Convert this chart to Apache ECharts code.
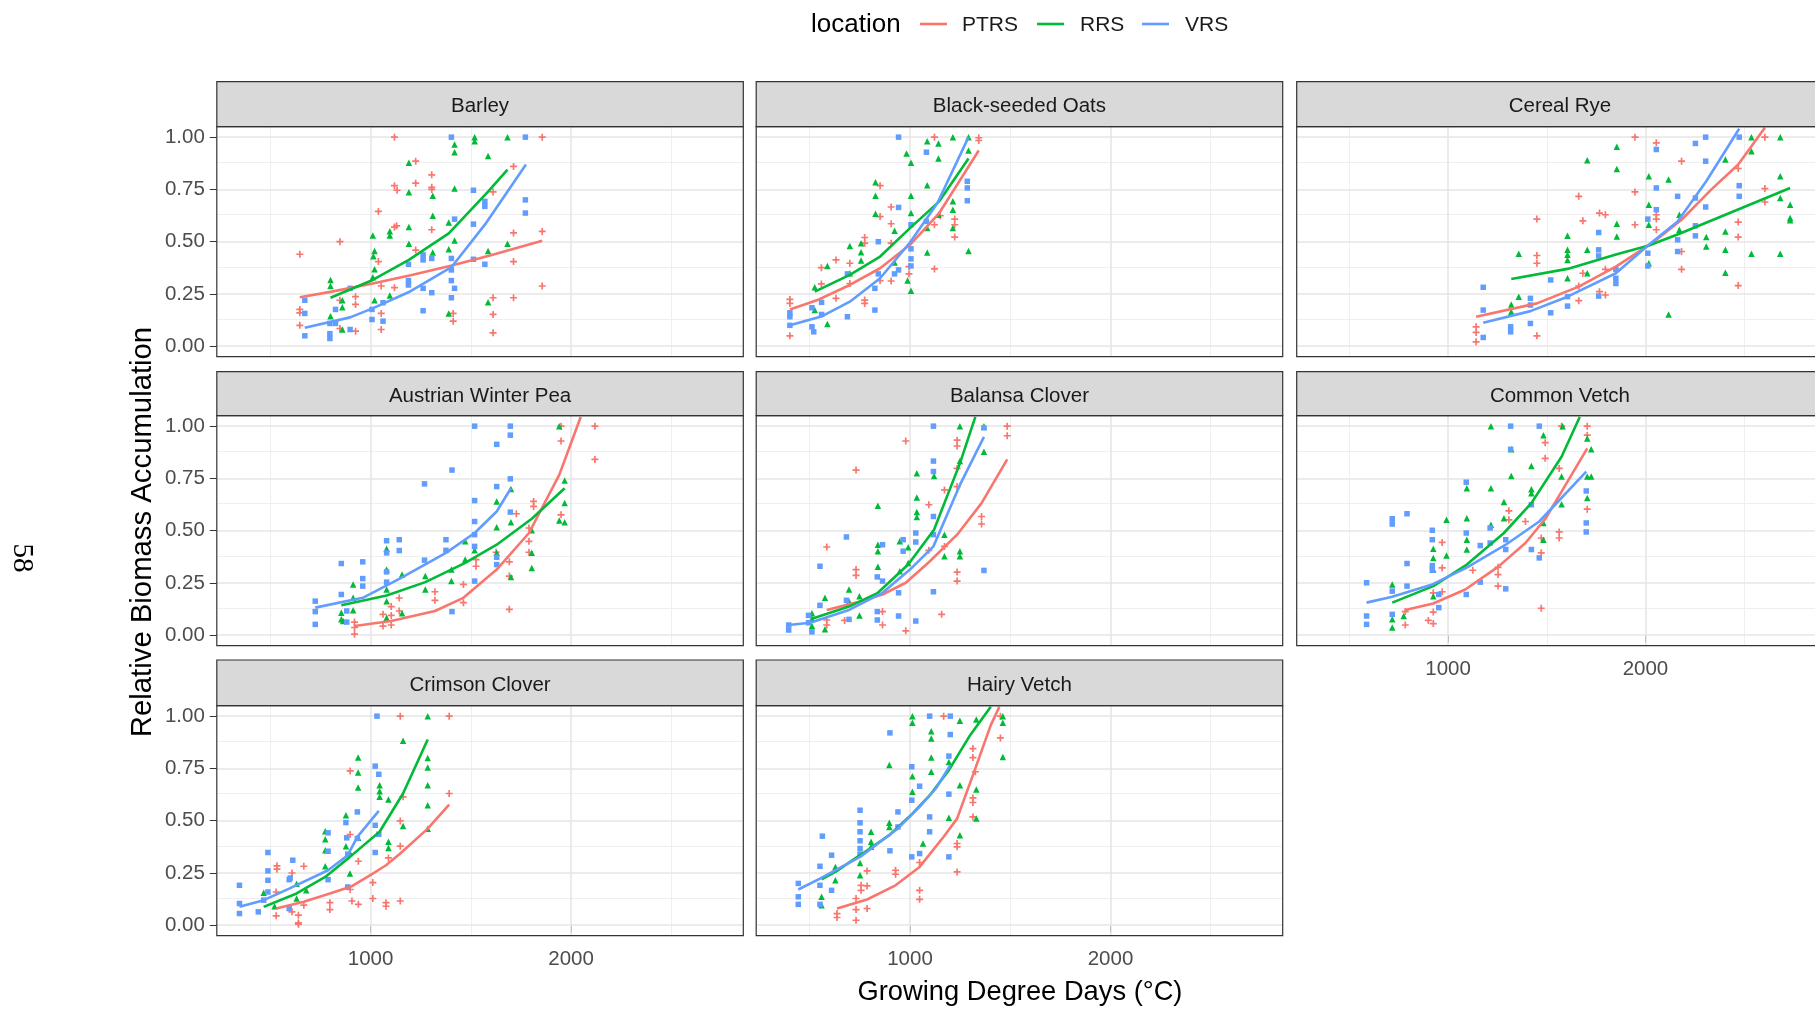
<!DOCTYPE html>
<html>
<head>
<meta charset="utf-8">
<title>Relative biomass accumulation by growing degree days</title>
<script src="https://cdn.jsdelivr.net/npm/echarts@6/dist/echarts.min.js"></script>
<style>
  html, body { margin: 0; padding: 0; background: #ffffff; }
  #chart { width: 1815px; height: 1009px; }
</style>
</head>
<body>
<div id="chart"></div>
<script>
// ---------------- data ----------------
const locations = ['PTRS', 'RRS', 'VRS'];
const cropNames = ['Barley', 'Black-seeded Oats', 'Cereal Rye',
  'Austrian Winter Pea', 'Balansa Clover', 'Common Vetch',
  'Crimson Clover', 'Hairy Vetch'];
const xTickValues = [1000, 2000];
const yTickValues = [0, 0.25, 0.5, 0.75, 1];
const xGridMajor = [1000, 2000];
const xGridMinor = [500, 1500, 2500];
const yGridMajor = [0, 0.25, 0.5, 0.75, 1];
const yGridMinor = [0.125, 0.375, 0.625, 0.875];

// Barley: observations [GDD, relative biomass]
const barleyPTRS = [[647,0.44],[647,0.176],[647,0.16],[647,0.10],[847,0.50],[847,0.22],[847,0.085],[925,0.237],[925,0.20],[925,0.072],[1039,0.645],[1039,0.405],[1053,0.288],[1053,0.157],[1053,0.08],[1119,1.0],[1119,0.768],[1132,0.746],[1119,0.57],[1130,0.576],[1119,0.28],[1225,0.885],[1225,0.78],[1225,0.46],[1305,0.82],[1305,0.76],[1305,0.75],[1305,0.557],[1412,0.157],[1412,0.12],[1611,0.738],[1611,0.232],[1611,0.152],[1611,0.064],[1713,0.86],[1713,0.542],[1713,0.405],[1713,0.232],[1856,1.0],[1856,0.549],[1856,0.288]];
const barleyRRS = [[800,0.317],[800,0.288],[800,0.144],[859,0.22],[859,0.186],[859,0.08],[1011,0.53],[1020,0.456],[1014,0.43],[1020,0.368],[1011,0.33],[1020,0.22],[1096,0.55],[1096,0.53],[1096,0.243],[1191,0.877],[1191,0.736],[1191,0.57],[1191,0.49],[1310,0.72],[1310,0.624],[1310,0.448],[1390,0.592],[1390,0.464],[1390,0.157],[1419,0.965],[1419,0.928],[1419,0.754],[1419,0.506],[1519,1.0],[1519,0.98],[1586,0.91],[1586,0.456],[1586,0.21],[1683,1.0],[1683,0.49]];
const barleyVRS = [[672,0.22],[672,0.157],[672,0.05],[797,0.109],[797,0.06],[797,0.037],[825,0.176],[825,0.109],[898,0.277],[898,0.08],[1007,0.176],[1007,0.128],[1062,0.208],[1062,0.12],[1189,0.392],[1189,0.314],[1189,0.293],[1262,0.437],[1262,0.413],[1262,0.277],[1262,0.17],[1305,0.42],[1305,0.256],[1403,1.0],[1403,0.42],[1403,0.365],[1403,0.314],[1419,0.608],[1419,0.277],[1403,0.232],[1513,0.746],[1513,0.584],[1513,0.416],[1570,0.693],[1570,0.669],[1570,0.392],[1772,1.0],[1772,0.70],[1772,0.637]];
// Barley: fitted curves
const barleyPTRSFit = [[647,0.234],[800,0.26],[1000,0.298],[1200,0.34],[1400,0.385],[1600,0.435],[1856,0.504]];
const barleyRRSFit = [[800,0.232],[1011,0.317],[1191,0.413],[1390,0.54],[1586,0.74],[1683,0.845]];
const barleyVRSFit = [[672,0.088],[898,0.138],[1007,0.18],[1189,0.258],[1403,0.378],[1576,0.589],[1775,0.869]];

// Black-seeded Oats
const oatsPTRS = [[401,0.224],[401,0.205],[401,0.05],[558,0.376],[558,0.298],[631,0.413],[631,0.229],[700,0.397],[700,0.30],[774,0.52],[774,0.493],[774,0.221],[774,0.205],[851,0.768],[851,0.62],[851,0.314],[906,0.666],[906,0.586],[906,0.493],[906,0.312],[995,0.381],[995,0.346],[1122,1.0],[1122,0.581],[1122,0.37],[1151,0.624],[1223,0.608],[1223,0.581],[1223,0.522],[1343,0.997],[1343,0.984]];
const oatsRRS = [[525,0.282],[525,0.173],[588,0.384],[588,0.106],[700,0.48],[700,0.349],[756,0.493],[756,0.45],[756,0.41],[828,0.784],[828,0.72],[828,0.634],[923,0.552],[923,0.40],[983,0.922],[988,0.314],[1005,0.877],[1005,0.72],[1005,0.637],[1005,0.266],[1086,0.98],[1086,0.77],[1086,0.565],[1086,0.448],[1142,0.97],[1142,0.898],[1142,0.629],[1214,1.0],[1214,0.693],[1214,0.653],[1214,0.565],[1292,1.0],[1292,0.936],[1292,0.456]];
const oatsVRS = [[401,0.16],[401,0.141],[401,0.10],[511,0.184],[511,0.093],[520,0.069],[559,0.21],[559,0.152],[688,0.346],[688,0.141],[825,0.173],[825,0.277],[842,0.50],[842,0.346],[923,0.346],[943,1.0],[943,0.664],[943,0.365],[1005,0.581],[1005,0.466],[1005,0.418],[1005,0.384],[1082,0.928],[1082,0.597],[1286,0.789],[1286,0.757],[1286,0.696]];
const oatsPTRSFit = [[401,0.176],[546,0.224],[700,0.293],[851,0.373],[1000,0.485],[1146,0.637],[1343,0.936]];
const oatsRRSFit = [[525,0.261],[700,0.341],[851,0.429],[1000,0.565],[1146,0.693],[1292,0.898]];
const oatsVRSFit = [[401,0.10],[562,0.144],[700,0.213],[851,0.325],[1000,0.496],[1137,0.685],[1292,1.0]];

// Cereal Rye
const ryePTRS = [[1142,0.093],[1142,0.066],[1142,0.021],[1450,0.608],[1450,0.434],[1450,0.397],[1450,0.05],[1662,0.717],[1662,0.288],[1662,0.218],[1683,0.60],[1683,0.349],[1767,0.637],[1797,0.629],[1767,0.261],[1797,0.245],[1797,0.368],[1947,1.0],[1947,0.738],[1947,0.581],[2055,0.973],[2055,0.629],[2055,0.608],[2055,0.557],[2183,0.885],[2183,0.453],[2183,0.368],[2470,0.85],[2470,0.594],[2470,0.522],[2470,0.29],[2605,1.0],[2605,0.754],[2605,0.69]];
const ryeRRS = [[1320,0.165],[1320,0.20],[1358,0.442],[1358,0.237],[1605,0.528],[1605,0.461],[1605,0.437],[1605,0.413],[1605,0.325],[1705,0.89],[1705,0.461],[1705,0.349],[1855,0.954],[1855,0.848],[1855,0.586],[1855,0.525],[2017,0.813],[2017,0.677],[2017,0.581],[2017,0.397],[2117,0.797],[2117,0.152],[2172,0.629],[2172,0.557],[2308,0.522],[2308,0.477],[2405,0.893],[2405,0.549],[2405,0.461],[2405,0.352],[2537,1.0],[2537,0.933],[2537,0.442],[2683,1.0],[2683,0.813],[2683,0.709],[2683,0.442],[2733,0.677],[2733,0.613],[2733,0.602]];
const ryeVRS = [[1178,0.282],[1178,0.173],[1178,0.042],[1317,0.093],[1317,0.069],[1417,0.229],[1417,0.197],[1417,0.109],[1520,0.317],[1520,0.16],[1605,0.237],[1605,0.192],[1763,0.544],[1763,0.461],[1763,0.432],[1763,0.24],[1850,0.368],[1850,0.325],[1850,0.30],[2012,0.608],[2012,0.445],[2012,0.384],[2055,0.941],[2055,0.757],[2055,0.653],[2163,0.717],[2163,0.509],[2163,0.453],[2253,0.97],[2253,0.709],[2253,0.576],[2305,1.0],[2305,0.885],[2305,0.666],[2253,0.528],[2475,1.0],[2475,0.768],[2475,0.717]];
const ryePTRSFit = [[1142,0.141],[1450,0.205],[1662,0.285],[1850,0.381],[2033,0.493],[2183,0.605],[2333,0.749],[2470,0.869],[2605,1.045]];
const ryeRRSFit = [[1320,0.322],[1605,0.37],[1855,0.44],[2017,0.482],[2172,0.538],[2405,0.629],[2733,0.757]];
const ryeVRSFit = [[1178,0.112],[1417,0.168],[1605,0.237],[1850,0.349],[2017,0.485],[2163,0.597],[2308,0.789],[2475,1.04]];

// Austrian Winter Pea
const peaPTRS = [[920,0.063],[920,0.037],[920,0.005],[1062,0.10],[1062,0.044],[1103,0.137],[1103,0.095],[1103,0.049],[1143,0.178],[1143,0.116],[1321,0.208],[1321,0.167],[1463,0.243],[1463,0.156],[1526,0.362],[1526,0.33],[1626,0.397],[1692,0.351],[1692,0.283],[1692,0.124],[1727,0.581],[1790,0.513],[1790,0.449],[1790,0.397],[1813,0.64],[1813,0.616],[1950,1.0],[1950,0.929],[1950,0.576],[2119,1.0],[2119,0.841]];
const peaRRS = [[854,0.108],[854,0.076],[863,0.068],[913,0.243],[913,0.179],[913,0.119],[1080,0.414],[1080,0.314],[1080,0.219],[1080,0.163],[1080,0.084],[1157,0.29],[1157,0.105],[1273,0.283],[1273,0.219],[1403,0.314],[1403,0.259],[1472,0.449],[1472,0.362],[1519,0.406],[1629,0.64],[1629,0.517],[1629,0.394],[1700,0.70],[1700,0.541],[1700,0.278],[1804,0.502],[1804,0.394],[1804,0.322],[1941,1.0],[1941,0.549],[1968,0.74],[1968,0.632],[1968,0.541]];
const peaVRS = [[724,0.163],[724,0.113],[724,0.052],[854,0.343],[854,0.195],[881,0.116],[881,0.063],[961,0.351],[961,0.271],[961,0.235],[1080,0.452],[1080,0.394],[1080,0.303],[1080,0.254],[1143,0.457],[1143,0.405],[1269,0.724],[1269,0.359],[1376,0.457],[1376,0.406],[1406,0.79],[1406,0.113],[1519,1.0],[1519,0.644],[1519,0.544],[1519,0.481],[1519,0.425],[1519,0.259],[1629,0.913],[1629,0.711],[1629,0.373],[1629,0.338],[1697,1.0],[1697,0.957],[1697,0.748],[1697,0.589]];
const peaPTRSFit = [[920,0.044],[1103,0.068],[1321,0.116],[1463,0.179],[1629,0.314],[1790,0.489],[1941,0.767],[2048,1.044]];
const peaRRSFit = [[854,0.143],[1080,0.19],[1273,0.254],[1472,0.346],[1629,0.433],[1804,0.557],[1968,0.703]];
const peaVRSFit = [[724,0.132],[961,0.179],[1143,0.27],[1376,0.394],[1519,0.489],[1629,0.592],[1700,0.703]];

// Balansa Clover
const balansaPTRS = [[585,0.422],[585,0.073],[585,0.049],[674,0.071],[731,0.79],[731,0.314],[731,0.286],[863,0.113],[863,0.049],[979,0.929],[979,0.021],[1094,0.624],[1094,0.406],[1158,0.10],[1172,0.695],[1172,0.425],[1235,0.933],[1235,0.905],[1235,0.798],[1235,0.711],[1235,0.302],[1235,0.259],[1357,0.568],[1357,0.532],[1485,1.0],[1485,0.954]];
const balansaRRS = [[511,0.105],[511,0.079],[511,0.044],[576,0.179],[576,0.029],[696,0.219],[696,0.163],[748,0.187],[748,0.095],[840,0.619],[840,0.433],[840,0.402],[840,0.327],[949,0.449],[949,0.306],[991,0.421],[991,0.346],[1034,0.775],[1034,0.659],[1034,0.589],[1034,0.565],[1120,0.762],[1172,0.481],[1172,0.378],[1249,1.0],[1249,0.833],[1249,0.402],[1249,0.378],[1369,1.0],[1369,0.878]];
const balansaVRS = [[395,0.049],[395,0.025],[494,0.095],[494,0.06],[511,0.016],[551,0.33],[551,0.143],[683,0.47],[683,0.167],[696,0.076],[837,0.279],[837,0.113],[837,0.073],[863,0.433],[863,0.259],[943,0.203],[943,0.092],[966,0.457],[966,0.402],[1029,0.489],[1029,0.446],[1029,0.068],[1117,1.0],[1117,0.833],[1117,0.783],[1117,0.568],[1117,0.481],[1117,0.208],[1369,0.992],[1369,0.31]];
const balansaPTRSFit = [[585,0.121],[731,0.156],[863,0.195],[979,0.251],[1094,0.349],[1235,0.481],[1357,0.632],[1485,0.841]];
const balansaRRSFit = [[511,0.079],[696,0.137],[840,0.203],[991,0.338],[1120,0.505],[1249,0.822],[1326,1.044]];
const balansaVRSFit = [[395,0.049],[502,0.06],[696,0.121],[863,0.203],[1000,0.314],[1117,0.425],[1249,0.719],[1369,0.949]];

// Common Vetch
const commonPTRS = [[783,0.113],[783,0.049],[900,0.071],[925,0.111],[925,0.056],[925,0.203],[970,0.444],[970,0.322],[970,0.208],[1125,0.311],[1253,0.325],[1253,0.29],[1253,0.235],[1308,0.595],[1308,0.552],[1392,0.544],[1472,0.394],[1472,0.129],[1472,0.465],[1492,0.921],[1492,0.846],[1563,0.798],[1563,0.494],[1563,0.465],[1575,1.0],[1705,1.0],[1705,0.957],[1705,0.603]];
const commonRRS = [[717,0.243],[717,0.076],[717,0.037],[775,0.092],[925,0.414],[925,0.37],[925,0.314],[925,0.187],[992,0.552],[992,0.381],[1095,0.703],[1095,0.56],[1095,0.457],[1095,0.41],[1217,1.0],[1217,0.703],[1217,0.529],[1283,0.637],[1283,0.56],[1320,0.889],[1320,0.762],[1422,0.81],[1422,0.698],[1422,0.679],[1483,0.957],[1483,0.537],[1483,0.457],[1575,0.759],[1575,0.627],[1580,1.0],[1705,0.941],[1705,0.759],[1705,0.656],[1725,0.889],[1725,0.759]];
const commonVRS = [[587,0.251],[587,0.092],[587,0.052],[717,0.557],[717,0.532],[717,0.211],[717,0.10],[792,0.581],[792,0.343],[792,0.235],[920,0.502],[920,0.457],[920,0.333],[920,0.311],[953,0.195],[953,0.132],[1092,0.732],[1092,0.489],[1092,0.195],[1163,0.429],[1163,0.254],[1213,0.513],[1213,0.441],[1292,0.457],[1292,0.41],[1292,0.222],[1317,1.0],[1317,0.889],[1422,0.41],[1462,1.0],[1462,0.37],[1422,0.624],[1700,0.69],[1700,0.537],[1700,0.494]];
const commonPTRSFit = [[783,0.121],[925,0.152],[1087,0.219],[1253,0.327],[1392,0.441],[1492,0.556],[1575,0.687],[1705,0.894]];
const commonRRSFit = [[717,0.156],[925,0.235],[1095,0.338],[1283,0.489],[1422,0.632],[1575,0.854],[1667,1.044]];
const commonVRSFit = [[587,0.156],[717,0.184],[920,0.243],[1092,0.322],[1292,0.433],[1462,0.544],[1700,0.783]];

// Crimson Clover
const crimsonPTRS = [[529,0.159],[529,0.045],[533,0.284],[533,0.268],[608,0.25],[608,0.064],[640,0.048],[640,0.011],[640,0.005],[667,0.282],[667,0.096],[797,0.108],[797,0.075],[898,0.738],[898,0.434],[898,0.171],[907,0.116],[939,0.10],[939,0.306],[1011,0.204],[1011,0.128],[1077,0.108],[1077,0.091],[1089,0.322],[1148,1.0],[1148,0.499],[1148,0.378],[1148,0.116],[1162,0.614],[1392,1.0],[1392,0.63]];
const crimsonRRS = [[467,0.155],[521,0.091],[631,0.199],[631,0.128],[679,0.167],[774,0.45],[774,0.411],[774,0.359],[774,0.282],[877,0.526],[877,0.378],[897,0.346],[897,0.247],[938,0.802],[938,0.73],[938,0.659],[938,0.418],[1045,0.67],[1045,0.641],[1045,0.614],[1089,0.601],[1089,0.399],[1089,0.37],[1162,0.882],[1162,0.475],[1285,1.0],[1285,0.80],[1285,0.754],[1285,0.67],[1285,0.574],[1285,0.462]];
const crimsonVRS = [[346,0.191],[346,0.104],[346,0.056],[440,0.064],[467,0.12],[488,0.348],[488,0.26],[488,0.215],[488,0.159],[594,0.218],[594,0.08],[612,0.311],[599,0.226],[788,0.442],[788,0.354],[788,0.218],[877,0.491],[881,0.418],[886,0.34],[886,0.183],[934,0.542],[934,0.415],[1023,0.761],[1041,0.722],[1023,0.478],[1023,0.348],[1041,0.435],[1032,1.0]];
const crimsonPTRSFit = [[529,0.08],[667,0.112],[797,0.152],[907,0.187],[1011,0.247],[1077,0.287],[1148,0.343],[1285,0.462],[1392,0.577]];
const crimsonRRSFit = [[467,0.088],[631,0.152],[774,0.231],[897,0.327],[1045,0.447],[1162,0.63],[1285,0.888]];
const crimsonVRSFit = [[346,0.088],[467,0.12],[594,0.175],[788,0.263],[886,0.335],[934,0.423],[1041,0.547]];

// Hairy Vetch
const hairyPTRS = [[636,0.056],[636,0.037],[731,0.128],[731,0.075],[731,0.024],[756,0.191],[756,0.167],[786,0.26],[786,0.188],[786,0.08],[928,0.263],[928,0.244],[1048,0.30],[1048,0.167],[1048,0.124],[1168,1.0],[1235,0.391],[1235,0.375],[1235,0.255],[1314,0.845],[1314,0.802],[1314,0.609],[1314,0.587],[1314,0.518],[1326,0.734],[1451,1.0],[1451,0.896]];
const hairyRRS = [[559,0.136],[559,0.096],[628,0.279],[628,0.215],[751,0.298],[751,0.239],[806,0.447],[806,0.399],[806,0.375],[897,0.766],[897,0.49],[897,0.47],[1012,1.0],[1012,0.968],[1012,0.713],[1012,0.638],[1106,0.928],[1106,0.893],[1106,0.802],[1106,0.734],[1065,0.391],[1194,0.781],[1194,0.514],[1249,0.978],[1249,0.67],[1249,0.431],[1331,0.984],[1331,0.649],[1331,0.51],[1463,1.0],[1463,0.968],[1463,0.805]];
const hairyVRS = [[443,0.20],[443,0.136],[443,0.10],[551,0.282],[551,0.191],[551,0.10],[563,0.426],[609,0.335],[609,0.167],[751,0.55],[751,0.49],[751,0.447],[751,0.404],[751,0.367],[751,0.34],[900,0.92],[900,0.356],[940,0.542],[940,0.47],[1009,0.758],[1009,0.598],[1009,0.327],[1048,0.665],[1048,0.343],[1098,1.0],[1098,0.518],[1098,0.447],[1194,0.809],[1194,0.627],[1194,0.327],[1201,0.912],[1201,1.0]];
const hairyPTRSFit = [[636,0.08],[786,0.123],[928,0.191],[1048,0.279],[1168,0.423],[1235,0.51],[1314,0.718],[1403,0.957],[1446,1.045]];
const hairyRRSFit = [[559,0.22],[628,0.255],[751,0.335],[897,0.431],[1012,0.534],[1106,0.63],[1194,0.742],[1300,0.909],[1403,1.045]];
const hairyVRSFit = [[443,0.171],[551,0.223],[751,0.327],[940,0.463],[1048,0.566],[1129,0.654],[1201,0.766]];

const observedByCrop = [
  [barleyPTRS, barleyRRS, barleyVRS],
  [oatsPTRS, oatsRRS, oatsVRS],
  [ryePTRS, ryeRRS, ryeVRS],
  [peaPTRS, peaRRS, peaVRS],
  [balansaPTRS, balansaRRS, balansaVRS],
  [commonPTRS, commonRRS, commonVRS],
  [crimsonPTRS, crimsonRRS, crimsonVRS],
  [hairyPTRS, hairyRRS, hairyVRS]
];
const fittedByCrop = [
  [barleyPTRSFit, barleyRRSFit, barleyVRSFit],
  [oatsPTRSFit, oatsRRSFit, oatsVRSFit],
  [ryePTRSFit, ryeRRSFit, ryeVRSFit],
  [peaPTRSFit, peaRRSFit, peaVRSFit],
  [balansaPTRSFit, balansaRRSFit, balansaVRSFit],
  [commonPTRSFit, commonRRSFit, commonVRSFit],
  [crimsonPTRSFit, crimsonRRSFit, crimsonVRSFit],
  [hairyPTRSFit, hairyRRSFit, hairyVRSFit]
];

// ---------------- layout & style ----------------
const FONT = '"Liberation Sans", Arial, Helvetica, sans-serif';
const colors = ['#F8766D', '#00BA38', '#619CFF'];
const PLUS = 'path://M38,0H62V38H100V62H62V100H38V62H0V38H38Z';
const symbols = [PLUS, 'triangle', 'rect'];
const symbolSizes = [7, 6.5, 5.5];
const xRange = [233, 2859];
const yRange = [-0.05, 1.05];
const colLeft = [216.8, 756.2, 1296.7];
const panelWidth = 526.5;
const stripTop = [81.7, 371.7, 660];
const plotTop = [126.7, 415.7, 705.7];
const plotHeight = 230;
const bottomPanels = [5, 6, 7];

const grids = [], xAxes = [], yAxes = [], series = [], graphics = [];

cropNames.forEach((crop, i) => {
  const row = Math.floor(i / 3), col = i % 3;
  const left = colLeft[col], width = panelWidth, top = plotTop[row];
  const showX = bottomPanels.includes(i);
  const showY = col === 0;

  grids.push({ left: left, top: top, width: width, height: plotHeight, show: false, containLabel: false });

  xAxes.push({
    type: 'value', gridIndex: i, min: xRange[0], max: xRange[1],
    axisLine: { show: false },
    splitLine: { show: false },
    axisTick: { show: showX, customValues: xTickValues, length: 7, lineStyle: { color: '#333333', width: 1 } },
    axisLabel: { show: showX, customValues: xTickValues, fontSize: 20.5, fontFamily: FONT, color: '#4D4D4D', margin: 13,
      formatter: v => String(v) }
  });
  yAxes.push({
    type: 'value', gridIndex: i, min: yRange[0], max: yRange[1],
    axisLine: { show: false },
    splitLine: { show: false },
    axisTick: { show: showY, customValues: yTickValues, length: 7, lineStyle: { color: '#333333', width: 1 } },
    axisLabel: { show: showY, customValues: yTickValues, fontSize: 20.5, fontFamily: FONT, color: '#4D4D4D', margin: 12,
      formatter: v => v.toFixed(2) }
  });

  // panel grid lines, kept beneath the points and curves
  const gl = [];
  xGridMinor.forEach(v => gl.push({ xAxis: v, lineStyle: { color: '#EFEFEF', width: 1, type: 'solid' } }));
  yGridMinor.forEach(v => gl.push({ yAxis: v, lineStyle: { color: '#EFEFEF', width: 1, type: 'solid' } }));
  xGridMajor.forEach(v => gl.push({ xAxis: v, lineStyle: { color: '#E6E6E6', width: 1.6, type: 'solid' } }));
  yGridMajor.forEach(v => gl.push({ yAxis: v, lineStyle: { color: '#E6E6E6', width: 1.6, type: 'solid' } }));
  series.push({
    type: 'line', xAxisIndex: i, yAxisIndex: i, data: [], z: 1, silent: true,
    markLine: { z: 1, silent: true, symbol: ['none', 'none'], label: { show: false }, emphasis: { disabled: true }, data: gl }
  });

  locations.forEach((loc, k) => {
    series.push({
      name: loc, type: 'scatter', xAxisIndex: i, yAxisIndex: i, z: 2,
      symbol: symbols[k], symbolSize: symbolSizes[k],
      itemStyle: { color: colors[k], opacity: 1 },
      data: observedByCrop[i][k]
    });
  });
  locations.forEach((loc, k) => {
    series.push({
      name: loc, type: 'line', xAxisIndex: i, yAxisIndex: i, z: 3,
      showSymbol: false, smooth: false, clip: true,
      lineStyle: { color: colors[k], width: 2.6 },
      data: fittedByCrop[i][k]
    });
  });

  // panel border and strip
  graphics.push({ type: 'rect', z: 100, silent: true,
    shape: { x: left, y: top, width: width, height: plotHeight },
    style: { fill: 'none', stroke: '#333333', lineWidth: 1.2 } });
  graphics.push({ type: 'rect', z: 100, silent: true,
    shape: { x: left, y: stripTop[row], width: width, height: top - stripTop[row] },
    style: { fill: '#D9D9D9', stroke: '#333333', lineWidth: 1.2 } });
  graphics.push({ type: 'text', z: 101, silent: true,
    x: left + width / 2, y: (stripTop[row] + top) / 2 + 2.5,
    style: { text: crop, font: '20.5px ' + FONT, fill: '#1A1A1A',
      textAlign: 'center', textVerticalAlign: 'middle', align: 'center', verticalAlign: 'middle' } });
});

// axis titles
graphics.push({ type: 'text', z: 101, silent: true, x: 1020, y: 992,
  style: { text: 'Growing Degree Days (°C)', font: '27.3px ' + FONT, fill: '#000000',
    textAlign: 'center', textVerticalAlign: 'middle', align: 'center', verticalAlign: 'middle' } });
graphics.push({ type: 'text', z: 101, silent: true, x: 143, y: 532, rotation: Math.PI / 2,
  style: { text: 'Relative Biomass Accumulation', font: '29.3px ' + FONT, fill: '#000000',
    textAlign: 'center', textVerticalAlign: 'middle', align: 'center', verticalAlign: 'middle' } });

// page number
graphics.push({ type: 'text', z: 101, silent: true, x: 22, y: 558, rotation: -Math.PI / 2,
  style: { text: '58', font: '29px "Liberation Serif", "Times New Roman", serif', fill: '#000000',
    textAlign: 'center', textVerticalAlign: 'middle', align: 'center', verticalAlign: 'middle' } });

// legend
graphics.push({ type: 'text', z: 101, silent: true, x: 811, y: 25,
  style: { text: 'location', font: '26px ' + FONT, fill: '#000000',
    textAlign: 'left', textVerticalAlign: 'middle', align: 'left', verticalAlign: 'middle' } });
const legendKeyX = [920, 1037, 1142];
const legendTextX = [962, 1080, 1185];
locations.forEach((loc, k) => {
  graphics.push({ type: 'line', z: 101, silent: true,
    shape: { x1: legendKeyX[k], y1: 24, x2: legendKeyX[k] + 27, y2: 24 },
    style: { stroke: colors[k], lineWidth: 2.6 } });
  graphics.push({ type: 'text', z: 101, silent: true, x: legendTextX[k], y: 25,
    style: { text: loc, font: '21px ' + FONT, fill: '#1A1A1A',
      textAlign: 'left', textVerticalAlign: 'middle', align: 'left', verticalAlign: 'middle' } });
});

const chart = echarts.init(document.getElementById('chart'), null, { renderer: 'canvas' });
chart.setOption({
  backgroundColor: '#ffffff',
  animation: false,
  grid: grids,
  xAxis: xAxes,
  yAxis: yAxes,
  series: series,
  graphic: { elements: graphics }
});
</script>
</body>
</html>
